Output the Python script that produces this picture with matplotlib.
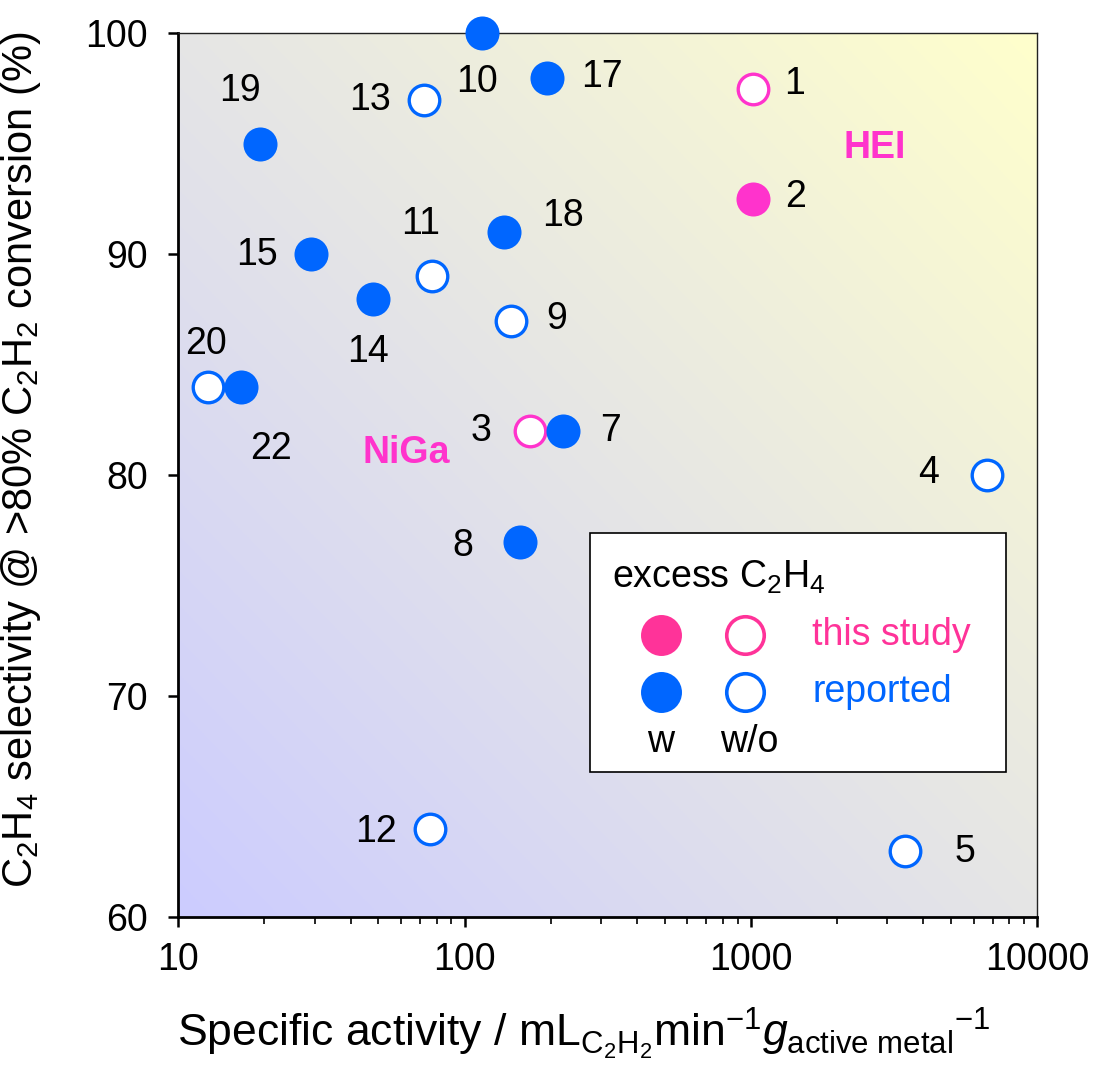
import numpy as np
import matplotlib
matplotlib.use("Agg")
import matplotlib.pyplot as plt
from matplotlib.patches import Rectangle
from matplotlib.ticker import FixedLocator, FixedFormatter, LogLocator, NullFormatter

plt.rcParams["font.family"] = "Liberation Sans"
plt.rcParams["mathtext.fontset"] = "custom"
plt.rcParams["mathtext.rm"] = "Liberation Sans"
plt.rcParams["mathtext.it"] = "Liberation Sans:italic"

# ---------------------------------------------------------
# data: specific activity (mL/min/g) vs C2H4 selectivity (%)
# ---------------------------------------------------------
study_wo_id = ["1", "3"]
study_wo_x = [1020, 170]
study_wo_y = [97.5, 82]

study_w_id = ["2"]
study_w_x = [1020]
study_w_y = [92.5]

rep_wo_id = ["4", "5", "9", "11", "12", "13", "20"]
rep_wo_x = [6700, 3450, 145, 77, 76, 72, 12.7]
rep_wo_y = [80, 63, 87, 89, 64, 97, 84]

rep_w_id = ["7", "8", "10", "14", "15", "17", "18", "19", "22"]
rep_w_x = [220, 156, 115, 48, 29, 194, 137, 19.3, 16.5]
rep_w_y = [82, 77, 100, 88, 90, 98, 91, 95, 84]

x_ticks = [10, 100, 1000, 10000]
y_ticks = [60, 70, 80, 90, 100]

# label offsets from each point, in pixels (right, up)
label_offset = {
    "1": (41, 5), "2": (42, 2), "3": (-49, 0), "4": (-59, 2), "5": (60, -1),
    "7": (48, 0), "8": (-57, -4), "9": (46, 2), "10": (-5, -49), "11": (-11, 52),
    "12": (-54, -3), "13": (-54, 0), "14": (-5, -53), "15": (-54, -1),
    "17": (55, 1), "18": (59, 16), "19": (-20, 53), "20": (-2, 43), "22": (30, -62),
}

BLUE = "#0066ff"
PINK = "#ff33cc"
PINK_LEG = "#ff3399"

fig = plt.figure(figsize=(10.99, 10.68), dpi=100)
pos = [0.1622, 0.1411, 0.7814, 0.8277]

# diagonal gradient background (lavender -> grey -> pale yellow)
bg = fig.add_axes(pos, zorder=0)
u, v = np.meshgrid(np.linspace(0, 1, 400), np.linspace(0, 1, 400))
t = (u + v) / 2
c0 = np.array([204, 204, 255]) / 255
c1 = np.array([255, 255, 204]) / 255
img = (1 - t)[..., None] * c0 + t[..., None] * c1
bg.imshow(img, origin="lower", extent=[0, 1, 0, 1], aspect="auto")
bg.axis("off")

ax = fig.add_axes(pos, zorder=1)
ax.set_facecolor("none")
ax.set_xscale("log")
ax.set_xlim(10, 10000)
ax.set_ylim(60, 100)

# open markers first so the filled ones sit on top where they overlap
ax.plot(rep_wo_x, rep_wo_y, "o", ms=22, mfc="white", mec=BLUE, mew=2.4,
        ls="none", clip_on=False, zorder=3)
ax.plot(study_wo_x, study_wo_y, "o", ms=22, mfc="white", mec=PINK, mew=2.4,
        ls="none", clip_on=False, zorder=3)
ax.plot(rep_w_x, rep_w_y, "o", ms=24.5, mfc=BLUE, mew=0,
        ls="none", clip_on=False, zorder=4)
ax.plot(study_w_x, study_w_y, "o", ms=24.5, mfc=PINK, mew=0,
        ls="none", clip_on=False, zorder=4)

for ids, xs, ys in [(study_wo_id, study_wo_x, study_wo_y),
                    (study_w_id, study_w_x, study_w_y),
                    (rep_wo_id, rep_wo_x, rep_wo_y),
                    (rep_w_id, rep_w_x, rep_w_y)]:
    for i, xv, yv in zip(ids, xs, ys):
        ax.annotate(i, (xv, yv), xytext=label_offset[i], textcoords="offset pixels",
                    ha="center", va="center", fontsize=27, zorder=5)

ax.text(62.5, 81.0, "NiGa", color=PINK, fontsize=27, fontweight="bold",
        ha="center", va="center")
ax.text(2716, 94.8, "HEI", color=PINK, fontsize=27, fontweight="bold",
        ha="center", va="center")

# axes styling
for side in ["left", "bottom"]:
    ax.spines[side].set_linewidth(2.0)
for side in ["top", "right"]:
    ax.spines[side].set_linewidth(1.0)
    ax.spines[side].set_color("#222222")

ax.xaxis.set_major_locator(FixedLocator(x_ticks))
ax.xaxis.set_major_formatter(FixedFormatter([str(v) for v in x_ticks]))
ax.xaxis.set_minor_locator(LogLocator(base=10, subs=np.arange(2, 10)))
ax.xaxis.set_minor_formatter(NullFormatter())
ax.yaxis.set_major_locator(FixedLocator(y_ticks))
ax.yaxis.set_major_formatter(FixedFormatter([str(v) for v in y_ticks]))

ax.tick_params(axis="both", which="major", direction="out", length=7, width=1.8,
               labelsize=27)
ax.tick_params(axis="x", which="major", pad=11)
ax.tick_params(axis="y", which="major", pad=15)
ax.tick_params(axis="x", which="minor", direction="out", length=5, width=1.2)

ax.set_xlabel(r"Specific activity / mL$_{\mathrm{C_2H_2}}$min$^{-1}$"
              r"$g_{\mathrm{active\ metal}}{}^{-1}$", fontsize=32)
ax.xaxis.set_label_coords(0.4725, -0.1)
ax.set_ylabel(r"C$_2$H$_4$ selectivity @ >80% C$_2$H$_2$ conversion (%)",
              fontsize=30)
ax.yaxis.set_label_coords(-0.158, 0.517)

# legend box drawn by hand: 2x2 marker grid with row/column captions
tr = ax.transAxes
ax.add_patch(Rectangle((0.4795, 0.1644), 0.4845, 0.2703, transform=tr,
                       facecolor="white", edgecolor="black", lw=1.2, zorder=6))
ax.text(0.505, 0.385, r"excess C$_2$H$_4$", transform=tr, fontsize=27,
        ha="left", va="center", zorder=7)
ax.plot([0.5618], [0.3194], "o", ms=29.5, mfc=PINK_LEG, mew=0, transform=tr, zorder=7)
ax.plot([0.660], [0.3194], "o", ms=27, mfc="white", mec=PINK_LEG, mew=2.6,
        transform=tr, zorder=7)
ax.plot([0.5618], [0.2549], "o", ms=29.5, mfc=BLUE, mew=0, transform=tr, zorder=7)
ax.plot([0.660], [0.2549], "o", ms=27, mfc="white", mec=BLUE, mew=2.6,
        transform=tr, zorder=7)
ax.text(0.738, 0.3194, "this study", color=PINK_LEG, transform=tr, fontsize=27,
        ha="left", va="center", zorder=7)
ax.text(0.738, 0.2549, "reported", color=BLUE, transform=tr, fontsize=27,
        ha="left", va="center", zorder=7)
ax.text(0.5618, 0.1984, "w", transform=tr, fontsize=27, ha="center",
        va="center", zorder=7)
ax.text(0.665, 0.1984, "w/o", transform=tr, fontsize=27, ha="center",
        va="center", zorder=7)

fig.savefig("out.png", dpi=100)
